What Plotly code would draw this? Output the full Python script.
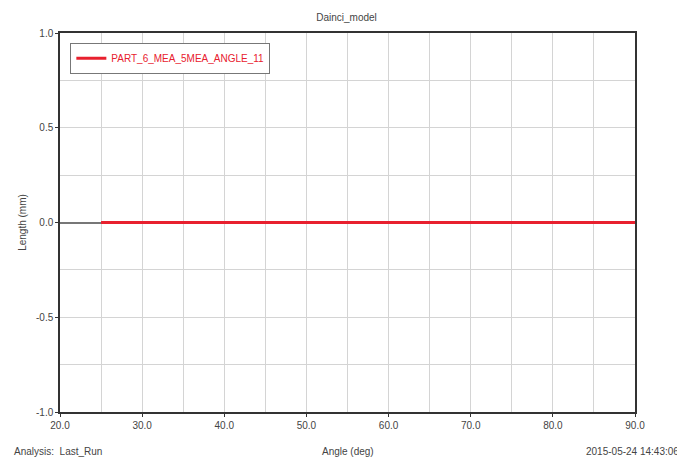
import plotly.graph_objects as go

angle_deg = [25.0, 90.0]
length_mm = [0.0, 0.0]
series_name = "PART_6_MEA_5MEA_ANGLE_11"
x_ticks = [20, 30, 40, 50, 60, 70, 80, 90]
x_tick_labels = ["20.0", "30.0", "40.0", "50.0", "60.0", "70.0", "80.0", "90.0"]
y_ticks = [-1.0, -0.5, 0.0, 0.5, 1.0]
y_tick_labels = ["-1.0", "-0.5", "0.0", "0.5", "1.0"]

FONT = "Liberation Sans, Arial, sans-serif"
TXT = "#444"

fig = go.Figure()
fig.add_trace(go.Scatter(x=angle_deg, y=length_mm, mode="lines", name=series_name,
                         line=dict(color="#e8202e", width=3)))

fig.update_layout(
    width=677, height=453,
    margin=dict(l=52, r=50, t=25, b=49, autoexpand=False),
    paper_bgcolor="white", plot_bgcolor="white",
    font=dict(family=FONT, size=10, color=TXT),
    title=dict(text="Dainci_model", x=0.5, xanchor="center", y=0.98, yanchor="middle",
               font=dict(size=10, color=TXT, family=FONT)),
    showlegend=True,
    legend=dict(x=0.018, y=0.974, xanchor="left", yanchor="top",
                bgcolor="white", bordercolor="#777", borderwidth=1,
                font=dict(color="#e8202e", size=10, family=FONT),
                itemwidth=30),
)

fig.update_xaxes(range=[20, 90], tickvals=x_ticks, ticktext=x_tick_labels,
                 showline=True, linecolor="#333", linewidth=1.5, mirror=True,
                 ticks="outside", ticklen=3, tickcolor="#333",
                 showgrid=True, gridcolor="#d4d4d4", gridwidth=1,
                 minor=dict(dtick=5, tick0=20, showgrid=True, gridcolor="#d4d4d4", gridwidth=1),
                 zeroline=False, automargin=False, tickfont=dict(size=10, color=TXT))
fig.update_yaxes(range=[-1.0, 1.0], tickvals=y_ticks, ticktext=y_tick_labels,
                 showline=True, linecolor="#333", linewidth=1.5, mirror=True,
                 ticks="outside", ticklen=3, tickcolor="#333",
                 showgrid=True, gridcolor="#d4d4d4", gridwidth=1,
                 minor=dict(dtick=0.25, tick0=0, showgrid=True, gridcolor="#d4d4d4", gridwidth=1),
                 zeroline=True, zerolinecolor="#777", zerolinewidth=1.5,
                 automargin=False,
                 title=dict(text="Length (mm)", font=dict(size=10, color=TXT), standoff=8),
                 tickfont=dict(size=10, color=TXT))

fig.add_annotation(text="Angle (deg)", xref="paper", yref="paper", x=0.5, y=-0.103,
                   xanchor="center", yanchor="middle", showarrow=False,
                   font=dict(size=10, color=TXT))
fig.add_annotation(text="Analysis:  Last_Run", xref="paper", yref="paper", x=-0.083, y=-0.103,
                   xanchor="left", yanchor="middle", showarrow=False,
                   font=dict(size=10, color=TXT))
fig.add_annotation(text="2015-05-24 14:43:06", xref="paper", yref="paper", x=1.08, y=-0.103,
                   xanchor="right", yanchor="middle", showarrow=False,
                   font=dict(size=10, color=TXT))

fig.write_html("out.html")
